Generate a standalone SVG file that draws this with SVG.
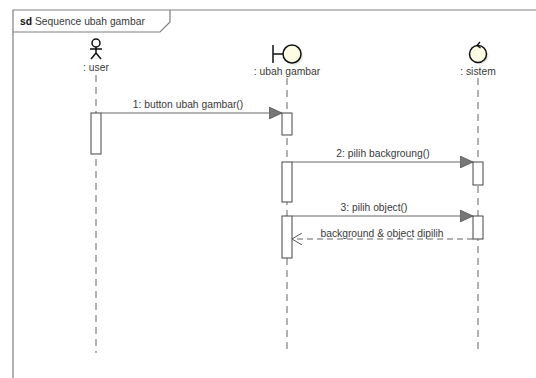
<svg xmlns="http://www.w3.org/2000/svg" width="536" height="378" viewBox="0 0 536 378">
<defs>
<style>
text{font-family:"Liberation Sans",Arial,sans-serif;font-size:10.3px;fill:#3a3a3a}
.lbl{text-anchor:middle}
.frame{fill:none;stroke:#808080;stroke-width:1.2}
.life{stroke:#666;stroke-width:1;stroke-dasharray:7 5;fill:none}
.act{fill:#fff;stroke:#444;stroke-width:1}
.msg{stroke:#666;stroke-width:1;fill:none}
.ret{stroke:#666;stroke-width:1;stroke-dasharray:6 4;fill:none}
.icon{fill:#fdfde3;stroke:#111;stroke-width:1.5}
.shadow{fill:#e6e6e6}
</style>
<marker id="sync" markerWidth="14" markerHeight="12" refX="13" refY="6" orient="auto" markerUnits="userSpaceOnUse">
<path d="M0,0 L13,6 L0,12 Z" fill="#777" stroke="#555" stroke-width="0.8"/>
</marker>
<marker id="open" markerWidth="12" markerHeight="12" refX="10" refY="6" orient="auto" markerUnits="userSpaceOnUse">
<path d="M0,0 L10,6 L0,12" fill="none" stroke="#555" stroke-width="1"/>
</marker>
</defs>
<rect width="536" height="378" fill="#fff"/>
<g id="frame">
<path class="frame" d="M13,378 L13,10 L536,10"/>
<path class="frame" d="M13,32 L160,32 L170,22 L170,10"/>
<text x="20" y="25"><tspan font-weight="bold" fill="#111">sd</tspan> Sequence ubah gambar</text>
</g>
<g id="user">
<circle cx="96" cy="43" r="4" fill="#fff" stroke="#111" stroke-width="1.5"/>
<path d="M96,47 L96,53 M90,49 L102,49 M96,53 L91,59 M96,53 L101,59" stroke="#111" stroke-width="1.5" fill="none"/>
<text class="lbl" x="96" y="71">: user</text>
<line class="life" x1="96" y1="75" x2="96" y2="353"/>
</g>
<g id="ubah_gambar">
<circle class="shadow" cx="294" cy="56" r="9"/>
<path d="M273,45 L273,63 M273,54 L283,54" stroke="#111" stroke-width="1.5" fill="none"/>
<circle class="icon" cx="292" cy="54" r="9"/>
<text class="lbl" x="287" y="75">: ubah gambar</text>
<line class="life" x1="287" y1="78" x2="287" y2="353"/>
</g>
<g id="sistem">
<circle class="shadow" cx="480" cy="56" r="8.5"/>
<circle class="icon" cx="478" cy="54" r="8.5"/>
<path d="M480,42 L477,45.5 L480.5,48" stroke="#111" stroke-width="1.3" fill="none"/>
<text class="lbl" x="478" y="75">: sistem</text>
<line class="life" x1="478" y1="78" x2="478" y2="353"/>
</g>
<g id="activations">
<rect class="act" x="91" y="113" width="10" height="41"/>
<rect class="act" x="282" y="113" width="10" height="22"/>
<rect class="act" x="282" y="162" width="10" height="40"/>
<rect class="act" x="473" y="162" width="10" height="23"/>
<rect class="act" x="282" y="216" width="10" height="42"/>
<rect class="act" x="473" y="216" width="10" height="23"/>
</g>
<g id="connectors">
<line class="msg" x1="101" y1="113" x2="282" y2="113" marker-end="url(#sync)"/>
<text class="lbl" x="188" y="108">1: button ubah gambar()</text>
<line class="msg" x1="292" y1="162" x2="473" y2="162" marker-end="url(#sync)"/>
<text class="lbl" x="383" y="157">2: pilih backgroung()</text>
<line class="msg" x1="292" y1="216" x2="473" y2="216" marker-end="url(#sync)"/>
<text class="lbl" x="374" y="211">3: pilih object()</text>
<line class="ret" x1="473" y1="239" x2="292" y2="239" marker-end="url(#open)"/>
<text class="lbl" x="382" y="237">background &amp; object dipilih</text>
</g>
</svg>
